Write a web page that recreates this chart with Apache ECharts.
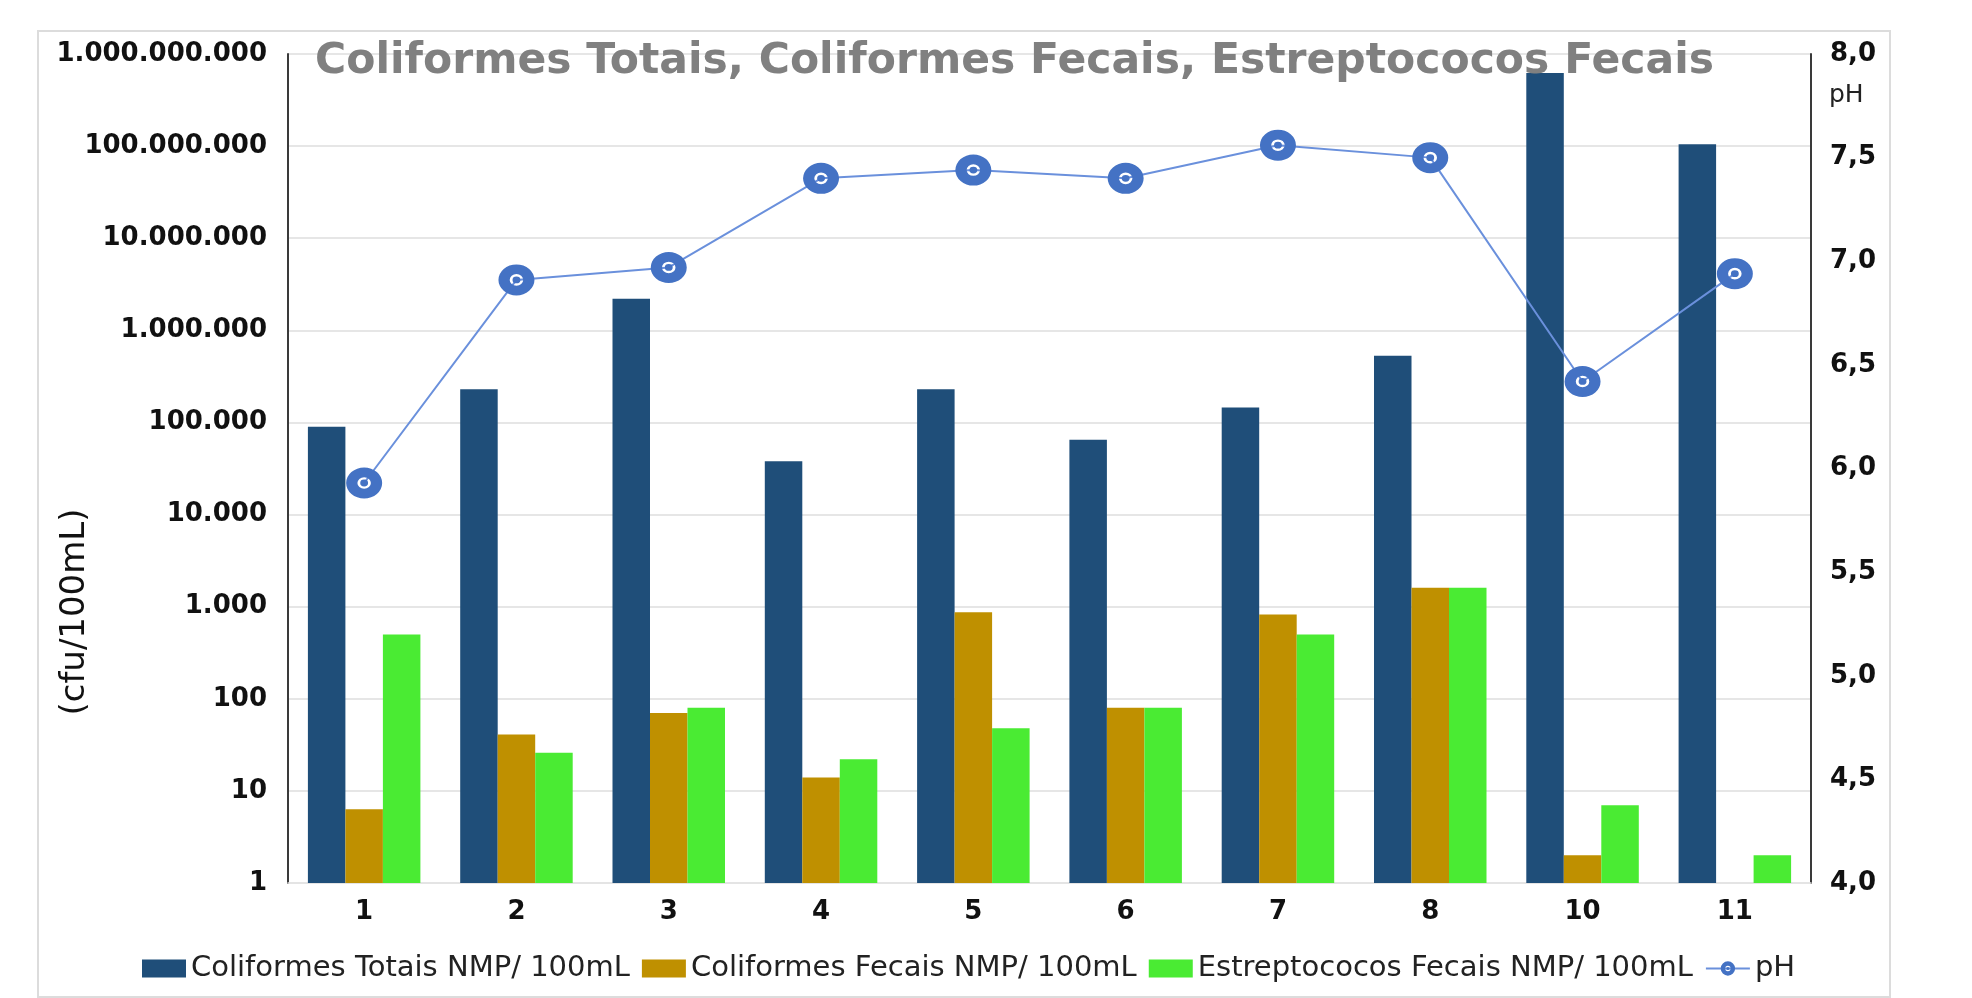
<!DOCTYPE html>
<html>
<head>
<meta charset="utf-8">
<title>Coliformes Totais, Coliformes Fecais, Estreptococos Fecais</title>
<script src="https://cdn.jsdelivr.net/npm/echarts@6/dist/echarts.min.js"></script>
<style>
  html, body { margin: 0; padding: 0; background: #fff; }
  #chart { width: 1972px; height: 998px; }
</style>
</head>
<body>
<div id="chart"></div>
<script>
// sampling points (9 is missing in the source)
const categories = ['1', '2', '3', '4', '5', '6', '7', '8', '10', '11']

// NMP / 100mL
const coliformesTotais = [90000, 230000, 2200000, 38000, 230000, 65000, 145000, 530000, 620000000, 105000000]
const coliformesFecais = [6.3, 41, 70, 14, 870, 80, 820, 1600, 2, null]
const estreptococosFecais = [500, 26, 80, 22, 48, 80, 500, 1600, 7, 2]

// right axis
const ph = [5.93, 6.91, 6.97, 7.40, 7.44, 7.40, 7.56, 7.50, 6.42, 6.94]

const FONT = 'DejaVu Sans'

// blue disc with a thin white ring inside
const phMarker = 'path://M16,0 A16,16 0 1,1 16,32 A16,16 0 1,1 16,0 Z ' +
  'M16,10 A6,6 0 1,0 16,22 A6,6 0 1,0 16,10 Z ' +
  'M16,12.5 A3.5,3.5 0 1,1 16,19.5 A3.5,3.5 0 1,1 16,12.5 Z'

function dotThousands(v) {
  return String(Math.round(v)).replace(/\B(?=(\d{3})+(?!\d))/g, '.')
}

const chart = echarts.init(document.getElementById('chart'))

const barBase = {
  type: 'bar',
  barWidth: 37.5,
  barGap: '0%',
  yAxisIndex: 0,
}

chart.setOption({
  animation: false,
  backgroundColor: '#fff',
  title: {
    text: 'Coliformes Totais, Coliformes Fecais, Estreptococos Fecais',
    left: 310,
    top: 35,
    textStyle: { fontFamily: FONT, fontSize: 42.5, fontWeight: 'bold', color: '#808080' },
  },
  legend: {
    left: 137,
    top: 949,
    itemWidth: 44,
    itemHeight: 18,
    itemGap: 12,
    textStyle: { fontFamily: FONT, fontSize: 29, color: '#222' },
    data: [
      { name: 'Coliformes Totais NMP/ 100mL', icon: 'rect' },
      { name: 'Coliformes Fecais NMP/ 100mL', icon: 'rect' },
      { name: 'Estreptococos Fecais NMP/ 100mL', icon: 'rect' },
      'pH',
    ],
  },
  graphic: [
    {
      type: 'rect',
      shape: { x: 38, y: 31, width: 1852, height: 966 },
      style: { fill: 'none', stroke: '#dcdcdc', lineWidth: 2 },
      silent: true,
    },
    {
      type: 'text',
      x: 75,
      y: 612,
      rotation: Math.PI / 2,
      style: {
        text: '(cfu/100mL)',
        font: '34px "DejaVu Sans"',
        fill: '#111',
        align: 'center',
        verticalAlign: 'middle',
      },
    },
    {
      type: 'text',
      x: 1829,
      y: 95,
      style: {
        text: 'pH',
        font: '25px "DejaVu Sans"',
        fill: '#222',
        align: 'left',
        verticalAlign: 'middle',
      },
    },
  ],
  grid: {
    left: 288,
    right: 161,
    top: 54,
    bottom: 115,
    containLabel: false,
  },
  xAxis: {
    type: 'category',
    data: categories,
    axisTick: { show: false },
    axisLine: { lineStyle: { color: '#e4e4e4', width: 1.5 } },
    axisLabel: {
      margin: 16,
      fontFamily: FONT,
      fontSize: 26,
      fontWeight: 'bold',
      color: '#111',
    },
  },
  yAxis: [
    {
      type: 'log',
      logBase: 10,
      min: 1,
      max: 1000000000,
      axisLine: { show: true, lineStyle: { color: '#3a3a3a', width: 2 } },
      axisTick: { show: false },
      splitLine: { lineStyle: { color: '#e6e6e6', width: 2 } },
      axisLabel: {
        margin: 21,
        fontFamily: FONT,
        fontSize: 26,
        fontWeight: 'bold',
        color: '#111',
        formatter: dotThousands,
      },
    },
    {
      type: 'value',
      min: 4,
      max: 8,
      interval: 0.5,
      position: 'right',
      axisLine: { show: true, lineStyle: { color: '#3a3a3a', width: 2 } },
      axisTick: { show: false },
      splitLine: { show: false },
      axisLabel: {
        margin: 19,
        fontFamily: FONT,
        fontSize: 26,
        fontWeight: 'bold',
        color: '#111',
        formatter: (v) => v.toFixed(1).replace('.', ','),
      },
    },
  ],
  series: [
    {
      ...barBase,
      name: 'Coliformes Totais NMP/ 100mL',
      data: coliformesTotais,
      itemStyle: { color: '#1f4e79' },
    },
    {
      ...barBase,
      name: 'Coliformes Fecais NMP/ 100mL',
      data: coliformesFecais,
      itemStyle: { color: '#bf9000' },
    },
    {
      ...barBase,
      name: 'Estreptococos Fecais NMP/ 100mL',
      data: estreptococosFecais,
      itemStyle: { color: '#4aeb33' },
    },
    {
      name: 'pH',
      type: 'line',
      yAxisIndex: 1,
      data: ph,
      symbol: phMarker,
      symbolSize: [36, 31],
      z: 5,
      itemStyle: { color: '#4472c4' },
      lineStyle: { color: '#6a90dc', width: 2 },
    },
  ],
})

window.addEventListener('resize', () => chart.resize())
</script>
</body>
</html>
